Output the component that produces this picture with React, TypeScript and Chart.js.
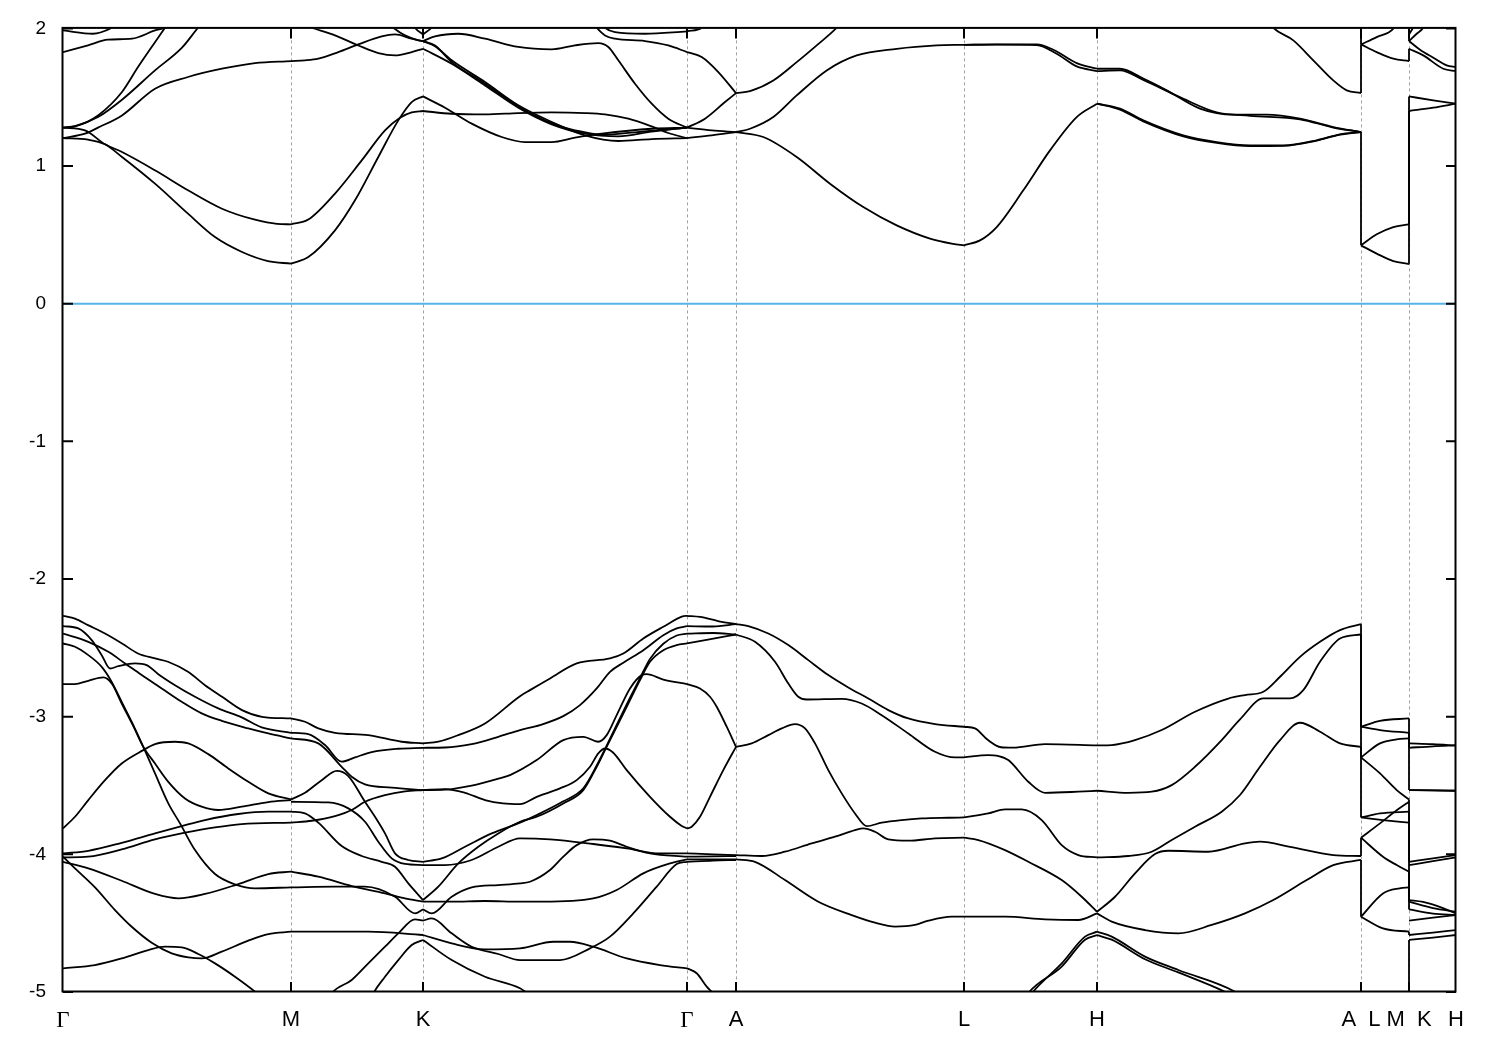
import React, { useEffect, useRef } from 'react';
import { Chart, registerables } from 'chart.js';

Chart.register(...registerables);

type Pt = [number, number];

// k-path positions (distance along path) and labels
const K_POS = [0, 228, 360, 624, 673, 901, 1034, 1298, 1346, 1393];
const K_LABELS = ['Γ', 'M', 'K', 'Γ', 'A', 'L', 'H', 'A  L', 'M  K', 'H'];
const E_TICKS = [-5, -4, -3, -2, -1, 0, 1, 2];
const FERMI: Pt[] = [[0, 0], [1393, 0]];

// ---------------- conduction bands ----------------
const C_GM: Pt[][] = [
  [[0, 1.279], [22, 1.259], [42, 1.158], [59, 1.102], [92, 0.969], [125, 0.824], [159, 0.69], [192, 0.61], [214, 0.58], [228, 0.577]],
  [[0, 1.203], [25, 1.192], [42, 1.158], [59, 1.066], [92, 0.872], [125, 0.654], [152, 0.484], [179, 0.376], [205, 0.31], [228, 0.291]],
  [[0, 1.203], [22, 1.235], [35, 1.279], [59, 1.368], [92, 1.562], [125, 1.647], [159, 1.707], [192, 1.748], [228, 1.763]],
  [[0, 1.279], [12, 1.288], [35, 1.368], [59, 1.538], [75, 1.719], [92, 1.9], [102, 2.005], [110, 2.09]],
  [[0, 1.279], [12, 1.29], [35, 1.356], [59, 1.482], [92, 1.695], [119, 1.86], [135, 2.005], [145, 2.09]],
  [[0, 1.985], [30, 1.961], [49, 2.005], [60, 2.06]],
  [[0, 1.828], [25, 1.877], [45, 1.918], [69, 1.925], [92, 1.985], [102, 2.005], [110, 2.04]],
];
const C_MK: Pt[][] = [
  [[228, 0.291], [245.3, 0.339], [272, 0.533], [292, 0.751], [315.3, 1.066], [335.3, 1.332], [348.7, 1.465], [360, 1.506]],
  [[228, 0.577], [245.3, 0.611], [272, 0.8], [298.7, 1.041], [322, 1.259], [337, 1.351], [348.7, 1.39], [360, 1.4]],
  [[228, 1.763], [242, 1.768], [255.3, 1.78], [275.3, 1.828], [295.3, 1.884], [318.7, 1.942], [332, 1.956], [348.7, 1.925], [360, 1.908]],
  [[228, 2.06], [248.7, 2.005], [272, 1.949], [295.3, 1.876], [315.3, 1.821], [332, 1.804], [348.7, 1.828], [360, 1.852]],
  [[322, 2.06], [330.3, 2.005], [342, 1.949], [355.3, 1.913], [360, 1.908]],
  [[348, 2.06], [352, 2.005], [360, 1.956]],
];
const C_KG: Pt[][] = [
  [[360, 1.506], [382, 1.424], [408.7, 1.308], [438.7, 1.211], [462, 1.174], [488.7, 1.174], [512, 1.206], [538.7, 1.235], [588.7, 1.271], [624, 1.279]],
  [[360, 1.4], [388.7, 1.38], [422, 1.375], [455.3, 1.385], [488.7, 1.39], [522, 1.385], [542, 1.375], [565.3, 1.344], [588.7, 1.288], [605.3, 1.24], [624, 1.203]],
  [[360, 1.852], [388.7, 1.743], [422, 1.586], [455.3, 1.424], [488.7, 1.303], [522, 1.235], [555.3, 1.215], [588.7, 1.25], [624, 1.279]],
  [[360, 1.908], [372, 1.87], [388.7, 1.768], [422, 1.61], [455.3, 1.441], [488.7, 1.32], [522, 1.223], [555.3, 1.182], [588.7, 1.196], [624, 1.203]],
  [[360, 1.908], [372, 1.875], [388.7, 1.755], [422, 1.598], [455.3, 1.432], [488.7, 1.31], [512, 1.26], [538.7, 1.228], [572, 1.245], [624, 1.279]],
  [[360, 1.908], [372, 1.942], [395.3, 1.961], [422, 1.925], [455.3, 1.865], [488.7, 1.848], [512, 1.877], [535.3, 1.893], [545.3, 1.865], [555.3, 1.768], [572, 1.598], [588.7, 1.453], [605.3, 1.344], [624, 1.279]],
  [[360, 1.956], [368.7, 2.005], [375, 2.06]],
  [[528, 2.06], [533.7, 2.005], [542, 1.949], [552, 1.925], [582, 1.908], [605.3, 1.876], [624, 1.828]],
  [[536, 2.06], [542, 2.005], [552, 1.973], [582, 1.961], [624, 1.978]],
];
const C_GA: Pt[][] = [
  [[624, 1.279], [642, 1.344], [662, 1.465], [673, 1.53]],
  [[624, 1.828], [638.7, 1.792], [655.3, 1.683], [673, 1.53]],
  [[624, 1.279], [648.7, 1.259], [673, 1.247]],
  [[624, 1.203], [648.7, 1.223], [673, 1.247]],
  [[624, 1.978], [638.7, 2.005], [645, 2.06]],
];
const C_AL: Pt[][] = [
  [[673, 1.53], [687, 1.545], [710.3, 1.622], [733.7, 1.755], [753.7, 1.877], [773.7, 2.005], [780, 2.06]],
  [[673, 1.247], [687, 1.271], [710.3, 1.356], [733.7, 1.513], [763.7, 1.695], [793.7, 1.804], [833.7, 1.852], [873.7, 1.877], [901, 1.881]],
  [[673, 1.247], [700.3, 1.211], [733.7, 1.066], [767, 0.872], [800.3, 0.702], [833.7, 0.569], [867, 0.473], [890, 0.435], [901, 0.424]],
];
const C_LH: Pt[][] = [
  [[901, 1.881], [933.7, 1.884], [973.7, 1.884], [990.3, 1.845], [1013.7, 1.748], [1034, 1.707]],
  [[901, 1.881], [933.7, 1.882], [973.7, 1.879], [993.7, 1.816], [1013.7, 1.724], [1034, 1.69]],
  [[901, 0.424], [917, 0.46], [933.7, 0.557], [960.3, 0.824], [987, 1.114], [1013.7, 1.356], [1034, 1.453]],
];
const C_HA: Pt[][] = [
  [[1034, 1.707], [1057, 1.707], [1080.3, 1.635], [1103.7, 1.55], [1137, 1.417], [1170.3, 1.373], [1203.7, 1.373], [1237, 1.344], [1270.3, 1.283], [1298, 1.247]],
  [[1034, 1.69], [1057, 1.695], [1080.3, 1.625], [1120, 1.49], [1153.7, 1.39], [1187, 1.365], [1237, 1.34], [1270.3, 1.28], [1298, 1.247]],
  [[1034, 1.453], [1057, 1.417], [1080.3, 1.332], [1120.3, 1.223], [1153.7, 1.174], [1187, 1.15], [1220.3, 1.15], [1253.7, 1.187], [1277, 1.23], [1298, 1.247]],
  [[1034, 1.453], [1057, 1.41], [1080.3, 1.325], [1120.3, 1.216], [1153.7, 1.168], [1187, 1.145], [1220.3, 1.147], [1253.7, 1.185], [1277, 1.228], [1298, 1.247]],
  [[1205, 2.06], [1210.3, 2.005], [1230.3, 1.913], [1250.3, 1.768], [1270.3, 1.622], [1283.7, 1.55], [1298, 1.53]],
];
const C_LM: Pt[][] = [
  [[1298, 1.884], [1313.7, 1.937], [1330.3, 1.998], [1335, 2.06]],
  [[1298, 1.884], [1313.7, 1.828], [1330.3, 1.78], [1346, 1.763]],
  [[1298, 0.424], [1313.7, 0.504], [1330.3, 0.557], [1346, 0.577]],
  [[1298, 0.424], [1313.7, 0.364], [1330.3, 0.31], [1346, 0.288]],
];
const C_KH: Pt[][] = [
  [[1346, 1.506], [1370.3, 1.477], [1393, 1.453]],
  [[1346, 1.4], [1370.3, 1.424], [1393, 1.453]],
  [[1346, 1.908], [1357, 1.845], [1370.3, 1.787], [1383.7, 1.731], [1393, 1.719]],
  [[1346, 1.852], [1360.3, 1.804], [1380.3, 1.707], [1393, 1.69]],
  [[1346, 1.908], [1353.7, 1.961], [1360.3, 2.005], [1364, 2.06]],
  [[1346, 1.956], [1350, 2.005], [1354, 2.06]],
];

// ---------------- valence bands ----------------
const V_GM: Pt[][] = [
  [[0, -2.267], [12, -2.287], [25, -2.335], [42, -2.396], [59, -2.468], [75, -2.541], [92, -2.577], [105, -2.601], [125, -2.674], [142, -2.771], [159, -2.855], [179, -2.952], [199, -3.001], [228, -3.013]],
  [[0, -2.342], [15.3, -2.359], [28.7, -2.444], [38.7, -2.553], [47, -2.65], [55.3, -2.633], [72, -2.613], [83.7, -2.625], [95.3, -2.691], [112, -2.771], [132, -2.855], [155.3, -2.94], [178.7, -3.005], [198.7, -3.078], [228, -3.117]],
  [[0, -2.396], [25.3, -2.456], [45.3, -2.529], [62, -2.613], [78.7, -2.698], [98.7, -2.795], [118.7, -2.892], [138.7, -2.976], [158.7, -3.03], [185.3, -3.085], [205.3, -3.122], [228, -3.158]],
  [[0, -2.468], [12, -2.492], [25.3, -2.553], [38.7, -2.638], [48.7, -2.747], [58.7, -2.892], [70.3, -3.061], [80.3, -3.219], [92, -3.412], [105.3, -3.63], [117, -3.775], [132, -3.969], [152, -4.143], [172, -4.218], [192, -4.247], [228, -4.24]],
  [[0, -2.763], [11.7, -2.763], [25.3, -2.739], [40.3, -2.715], [48.7, -2.759], [58.7, -2.904], [70.3, -3.068], [80.3, -3.219], [92, -3.34], [105.3, -3.473], [122, -3.594], [138.7, -3.654], [155.3, -3.678], [178.7, -3.654], [205.3, -3.62], [228, -3.606]],
  [[0, -3.812], [12, -3.727], [25.3, -3.606], [42, -3.461], [58.7, -3.34], [80.3, -3.243], [92, -3.199], [112, -3.182], [125.3, -3.194], [145.3, -3.272], [165.3, -3.376], [185.3, -3.473], [205.3, -3.557], [228, -3.601]],
  [[0, -3.993], [25.3, -3.974], [58.7, -3.916], [92, -3.848], [118.7, -3.795], [142, -3.751], [175.3, -3.707], [205.3, -3.69], [228, -3.69]],
  [[0, -4.022], [25.3, -4.017], [58.7, -3.964], [92, -3.891], [122, -3.843], [152, -3.804], [178.7, -3.78], [228, -3.77]],
  [[0, -4.054], [25.3, -4.102], [58.7, -4.192], [92, -4.288], [115.3, -4.32], [142, -4.288], [175.3, -4.216], [205.3, -4.143], [228, -4.126]],
  [[0, -4.017], [12, -4.102], [32, -4.24], [52, -4.405], [68.7, -4.526], [88.7, -4.642], [108.7, -4.719], [125.3, -4.748], [138.7, -4.756], [158.7, -4.707], [185.3, -4.627], [205.3, -4.579], [228, -4.562]],
  [[0, -4.828], [32, -4.804], [58.7, -4.756], [85.3, -4.695], [102, -4.671], [118.7, -4.676], [135.3, -4.724], [152, -4.792], [172, -4.889], [192, -4.998], [200, -5.05]],
];
const V_MK: Pt[][] = [
  [[228, -3.013], [242, -3.037], [255.3, -3.085], [272, -3.117], [305.3, -3.134], [338.7, -3.182], [360, -3.194]],
  [[228, -3.117], [245.3, -3.127], [262, -3.206], [278.7, -3.327], [292, -3.296], [308.7, -3.257], [335.3, -3.233], [360, -3.226]],
  [[228, -3.158], [255.3, -3.194], [278.7, -3.364], [288.7, -3.436], [302, -3.492], [328.7, -3.516], [360, -3.533]],
  [[228, -3.601], [242, -3.553], [258.7, -3.461], [273.7, -3.393], [285.3, -3.431], [302, -3.618], [312, -3.727], [322, -3.848], [332, -3.993], [345.3, -4.041], [360, -4.054]],
  [[228, -3.618], [265.3, -3.623], [285.3, -3.666], [302, -3.763], [315.3, -3.908], [328.7, -4.029], [342, -4.07], [360, -4.078]],
  [[228, -3.69], [242, -3.703], [255.3, -3.77], [278.7, -3.94], [298.7, -4.012], [318.7, -4.054], [332, -4.09], [345.3, -4.211], [360, -4.332]],
  [[228, -3.77], [248.7, -3.756], [272, -3.722], [288.7, -3.678], [302, -3.618], [322, -3.57], [342, -3.543], [360, -3.533]],
  [[228, -4.126], [255.3, -4.162], [288.7, -4.23], [322, -4.283], [342, -4.32], [360, -4.344]],
  [[228, -4.24], [272, -4.235], [302, -4.235], [332, -4.308], [352, -4.429], [360, -4.4]],
  [[228, -4.562], [305.3, -4.562], [360, -4.586]],
  [[262, -5.1], [268.7, -5.01], [288.7, -4.913], [305.3, -4.792], [322, -4.671], [335.3, -4.574], [352, -4.472], [360, -4.482]],
  [[305, -5.1], [310.3, -5.01], [322, -4.889], [335.3, -4.768], [348.7, -4.659], [360, -4.622]],
];
const V_KG: Pt[][] = [
  [[360, -3.194], [375.3, -3.182], [395.3, -3.134], [422, -3.049], [457, -2.851], [467, -2.807], [487, -2.722], [513.7, -2.613], [547, -2.577], [560.3, -2.541], [580.3, -2.432], [600.3, -2.347], [620.3, -2.27], [624, -2.267]],
  [[360, -3.226], [382, -3.224], [408.7, -3.199], [435.3, -3.146], [457, -3.097], [477, -3.061], [500.3, -2.996], [517, -2.916], [533.7, -2.795], [547, -2.674], [560.3, -2.608], [580.3, -2.517], [600.3, -2.408], [613.7, -2.359], [624, -2.342]],
  [[360, -3.533], [382, -3.526], [402, -3.553], [422, -3.606], [440, -3.63], [457, -3.635], [473.7, -3.582], [497, -3.521], [513.7, -3.461], [527, -3.364], [535.3, -3.267], [542, -3.231], [550, -3.26], [563.7, -3.388], [587, -3.582], [607, -3.727], [618, -3.79], [624, -3.812]],
  [[360, -3.533], [382, -3.53], [408.7, -3.5], [435.3, -3.45], [447, -3.424], [473.7, -3.315], [500.3, -3.17], [520.3, -3.146], [535.3, -3.182], [543.7, -3.134], [553.7, -2.989], [567, -2.795], [578.7, -2.698], [583.7, -2.691], [600.3, -2.73], [624, -2.763]],
  [[360, -4.332], [375.3, -4.235], [395.3, -4.066], [415.3, -3.945], [435.3, -3.848], [457, -3.763], [473.7, -3.727], [500.3, -3.63], [520.3, -3.533], [533.7, -3.364], [542, -3.243], [550.3, -3.122], [563.7, -2.928], [577, -2.734], [587, -2.601], [600.3, -2.517], [613.7, -2.48], [624, -2.468]],
  [[360, -4.054], [378.7, -4.03], [402, -3.945], [428.7, -3.848], [457, -3.77], [473.7, -3.715], [500.3, -3.615], [520.3, -3.52], [533.7, -3.355], [542, -3.235], [550.3, -3.11], [563.7, -2.91], [577, -2.72], [587, -2.58], [600.3, -2.47], [613.7, -2.41], [624, -2.396]],
  [[360, -4.078], [382, -4.078], [408.7, -4.041], [435.3, -3.945], [457, -3.884], [487, -3.891], [530.3, -3.925], [563.7, -3.957], [597, -3.993], [624, -3.993]],
  [[360, -4.4], [368.7, -4.429], [388.7, -4.308], [408.7, -4.24], [435.3, -4.223], [457, -4.211], [467, -4.199], [487, -4.114], [500.3, -4.017], [513.7, -3.933], [530.3, -3.891], [547, -3.901], [563.7, -3.945], [587, -3.993], [624, -4.017]],
  [[360, -4.344], [388.7, -4.344], [422, -4.339], [457, -4.344], [480.3, -4.344], [530.3, -4.32], [553.7, -4.259], [580.3, -4.138], [607, -4.066], [624, -4.037]],
  [[360, -4.482], [368.7, -4.465], [388.7, -4.574], [408.7, -4.671], [435.3, -4.724], [457, -4.768], [497, -4.768], [527, -4.683], [547, -4.598], [570.3, -4.429], [593.7, -4.235], [613.7, -4.071], [624, -4.054]],
  [[360, -4.586], [388.7, -4.647], [422, -4.69], [457, -4.683], [490.3, -4.635], [507, -4.635], [530.3, -4.671], [563.7, -4.756], [597, -4.804], [624, -4.828]],
  [[360, -4.622], [388.7, -4.768], [422, -4.889], [457, -4.973], [463.7, -5.005], [475, -5.06]],
];
const V_GA: Pt[][] = [
  [[624, -2.267], [637, -2.275], [655, -2.305], [673, -2.328]],
  [[624, -2.342], [650, -2.345], [673, -2.328]],
  [[624, -2.396], [650, -2.392], [673, -2.403]],
  [[624, -2.468], [645, -2.44], [673, -2.403]],
  [[624, -2.763], [637, -2.795], [647, -2.855], [653.7, -2.928], [663.7, -3.073], [673, -3.219]],
  [[624, -3.812], [628.7, -3.799], [637, -3.727], [647, -3.582], [660.3, -3.388], [673, -3.219]],
  [[624, -3.993], [650, -4.0], [673, -4.005]],
  [[624, -4.017], [650, -4.015], [673, -4.012]],
  [[624, -4.037], [650, -4.037], [673, -4.037]],
  [[624, -4.054], [650, -4.045], [673, -4.041]],
  [[624, -4.828], [633.7, -4.864], [643.7, -4.961], [650.3, -5.01], [656, -5.06]],
];
const V_AL: Pt[][] = [
  [[673, -2.328], [685.3, -2.342], [705.3, -2.396], [725.3, -2.48], [745.3, -2.589], [765.3, -2.698], [785.3, -2.788], [805.3, -2.868], [825.3, -2.952], [845.3, -3.013], [872, -3.054], [901, -3.073]],
  [[673, -2.403], [692, -2.456], [712, -2.601], [725.3, -2.759], [735.3, -2.855], [743.7, -2.875], [778.7, -2.87], [798.7, -2.904], [818.7, -2.989], [845.3, -3.122], [872, -3.255], [892, -3.296], [901, -3.296]],
  [[673, -3.219], [688.7, -3.194], [705.3, -3.134], [718.7, -3.085], [732, -3.054], [742, -3.085], [752, -3.194], [765.3, -3.388], [778.7, -3.557], [792, -3.703], [803.7, -3.795], [818.7, -3.77], [838.7, -3.751], [858.7, -3.739], [885.3, -3.734], [901, -3.732]],
  [[673, -4.005], [698.7, -4.012], [722, -3.981], [748.7, -3.92], [772, -3.872], [792, -3.824], [800.3, -3.811], [812, -3.836], [825.3, -3.891], [845.3, -3.901], [872, -3.884], [901, -3.879]],
  [[673, -4.037], [692, -4.054], [722, -4.187], [755.3, -4.344], [788.7, -4.441], [812, -4.496], [832, -4.525], [852, -4.513], [865.3, -4.482], [888.7, -4.453], [901, -4.453]],
];
const V_LH: Pt[][] = [
  [[901, -3.073], [912, -3.085], [925, -3.17], [938, -3.222], [950, -3.225], [982, -3.199], [1034, -3.209]],
  [[901, -3.296], [925.3, -3.279], [935, -3.285], [945.3, -3.315], [965.3, -3.473], [982, -3.553], [1015.3, -3.545], [1034, -3.538]],
  [[901, -3.732], [925.3, -3.703], [942, -3.674], [958.7, -3.674], [978.7, -3.751], [998.7, -3.933], [1015.3, -4.005], [1034, -4.022]],
  [[901, -3.879], [915.3, -3.896], [942, -3.969], [965.3, -4.054], [998.7, -4.187], [1018.7, -4.308], [1034, -4.417]],
  [[901, -4.453], [942, -4.453], [982, -4.472], [1015.3, -4.477], [1034, -4.429]],
  [[964, -5.06], [968.7, -5.01], [998.7, -4.792], [1022, -4.598], [1034, -4.562]],
  [[961, -5.06], [965, -5.01], [998.7, -4.815], [1022, -4.62], [1034, -4.587]],
];
const V_HA: Pt[][] = [
  [[1034, -3.209], [1048.7, -3.206], [1072, -3.17], [1098.7, -3.097], [1132, -2.964], [1165.3, -2.868], [1182, -2.843], [1200.3, -2.819], [1217, -2.71], [1237, -2.565], [1257, -2.456], [1277, -2.371], [1298, -2.328]],
  [[1034, -3.538], [1065.3, -3.553], [1088.7, -3.545], [1108.7, -3.497], [1132, -3.364], [1158.7, -3.17], [1177, -3.02], [1200.3, -2.867], [1227, -2.867], [1240.3, -2.807], [1257, -2.601], [1277, -2.432], [1298, -2.403]],
  [[1034, -4.022], [1065.3, -4.012], [1088.7, -3.981], [1108.7, -3.896], [1132, -3.799], [1158.7, -3.69], [1177, -3.569], [1197, -3.364], [1217, -3.17], [1237, -3.044], [1257, -3.109], [1277, -3.194], [1298, -3.219]],
  [[1034, -4.417], [1052, -4.308], [1072, -4.138], [1092, -3.998], [1105.3, -3.974], [1145.3, -3.981], [1182, -3.92], [1197, -3.908], [1227, -3.945], [1270.3, -4.005], [1298, -4.012]],
  [[1034, -4.429], [1048.7, -4.489], [1082, -4.55], [1115.3, -4.574], [1148.7, -4.513], [1182, -4.429], [1210.3, -4.332], [1243.7, -4.187], [1270.3, -4.078], [1298, -4.041]],
  [[1034, -4.562], [1048.7, -4.598], [1082, -4.743], [1115.3, -4.84], [1172, -4.998], [1180, -5.04]],
  [[1034, -4.587], [1048.7, -4.62], [1082, -4.762], [1115.3, -4.858], [1165, -5.01], [1172, -5.04]],
];
const V_LM: Pt[][] = [
  [[1298, -3.073], [1317, -3.03], [1346, -3.013]],
  [[1298, -3.073], [1317, -3.097], [1346, -3.117]],
  [[1298, -3.296], [1317, -3.194], [1333.7, -3.165], [1346, -3.158]],
  [[1298, -3.296], [1317, -3.412], [1333.7, -3.533], [1346, -3.601]],
  [[1298, -3.732], [1317, -3.703], [1346, -3.69]],
  [[1298, -3.732], [1320, -3.751], [1346, -3.77]],
  [[1298, -3.879], [1317, -3.775], [1333.7, -3.68], [1346, -3.618]],
  [[1298, -3.879], [1320, -4.017], [1333.7, -4.078], [1346, -4.126]],
  [[1298, -4.453], [1320, -4.284], [1336.7, -4.247], [1346, -4.24]],
  [[1298, -4.453], [1320, -4.538], [1346, -4.562]],
];
const V_KH: Pt[][] = [
  [[1346, -3.194], [1370, -3.2], [1393, -3.209]],
  [[1346, -3.226], [1370, -3.215], [1393, -3.209]],
  [[1346, -3.533], [1393, -3.538]],
  [[1346, -3.533], [1370, -3.535], [1393, -3.538]],
  [[1346, -4.054], [1370, -4.03], [1393, -4.005]],
  [[1346, -4.078], [1370, -4.05], [1393, -4.022]],
  [[1346, -4.332], [1360, -4.345], [1380, -4.39], [1393, -4.429]],
  [[1346, -4.344], [1370, -4.39], [1393, -4.417]],
  [[1346, -4.4], [1370, -4.43], [1393, -4.441]],
  [[1346, -4.482], [1370, -4.46], [1393, -4.441]],
  [[1346, -4.586], [1370, -4.568], [1393, -4.55]],
  [[1346, -4.622], [1370, -4.605], [1393, -4.586]],
];

// band energies on either side of the path discontinuities (A|L and M|K)
const JUMP_AL_K = 1298;
const JUMP_AL: Pt[] = [[1.247, 0.424], [1.53, 1.884], [2.08, 1.884], [-2.328, -3.073], [-2.403, -3.296], [-3.219, -3.732], [-4.012, -3.879], [-4.041, -4.453]];
const JUMP_MK_K = 1346;
const JUMP_MK: Pt[] = [[0.291, 1.4], [0.577, 1.506], [1.763, 1.852], [2.06, 1.908], [-3.013, -3.194], [-3.117, -3.226], [-3.158, -3.533], [-3.601, -4.054], [-3.69, -4.332], [-4.126, -4.344], [-4.24, -4.4], [-4.562, -4.586], [-5.1, -4.622]];

const BAND_GROUPS: Pt[][][] = [C_GM, C_MK, C_KG, C_GA, C_AL, C_LH, C_HA, C_LM, C_KH, V_GM, V_MK, V_KG, V_GA, V_AL, V_LH, V_HA, V_LM, V_KH];

const W = 1500;
const H = 1050;
const SANS = "'Liberation Sans', Arial, Helvetica, sans-serif";
const SERIF = "'Liberation Serif', 'Times New Roman', serif";
const LINE_W = 1.8;

const framePlugin = {
  id: 'bandFrame',
  beforeDatasetsDraw(chart: any) {
    const { ctx, chartArea: a, scales } = chart;
    ctx.save();
    ctx.strokeStyle = '#a0a0a0';
    ctx.lineWidth = 1;
    ctx.setLineDash([3, 3]);
    for (const k of K_POS.slice(1, -1)) {
      const x = Math.round(scales.x.getPixelForValue(k)) + 0.5;
      ctx.beginPath();
      ctx.moveTo(x, a.top);
      ctx.lineTo(x, a.bottom);
      ctx.stroke();
    }
    ctx.restore();
  },
  afterDatasetsDraw(chart: any) {
    const { ctx, chartArea: a, scales } = chart;
    ctx.save();
    ctx.strokeStyle = '#000';
    ctx.lineWidth = 2;
    ctx.setLineDash([]);
    ctx.strokeRect(a.left - 0.5, a.top - 0.5, a.right - a.left, a.bottom - a.top);
    const tl = 10;
    ctx.beginPath();
    for (const e of E_TICKS) {
      const y = scales.y.getPixelForValue(e);
      ctx.moveTo(a.left, y);
      ctx.lineTo(a.left + tl, y);
      ctx.moveTo(a.right, y);
      ctx.lineTo(a.right - tl, y);
    }
    for (const k of K_POS.slice(1, -1)) {
      const x = scales.x.getPixelForValue(k);
      ctx.moveTo(x, a.top);
      ctx.lineTo(x, a.top + tl);
      ctx.moveTo(x, a.bottom);
      ctx.lineTo(x, a.bottom - tl);
    }
    ctx.stroke();
    ctx.restore();
  },
};

export default function App() {
  const ref = useRef<HTMLCanvasElement>(null);
  useEffect(() => {
    const canvas = ref.current;
    if (!canvas) return;
    const datasets: any[] = [];
    datasets.push({
      data: FERMI.map(([x, y]) => ({ x, y })),
      borderColor: '#56b4e9',
      borderWidth: 2,
      pointRadius: 0,
      tension: 0,
    });
    for (const group of BAND_GROUPS) {
      for (const band of group) {
        datasets.push({
          data: band.map(([x, y]) => ({ x, y })),
          borderColor: '#000',
          borderWidth: LINE_W,
          pointRadius: 0,
          cubicInterpolationMode: 'monotone',
          borderJoinStyle: 'round',
        });
      }
    }
    const jumps: [number, Pt[]][] = [[JUMP_AL_K, JUMP_AL], [JUMP_MK_K, JUMP_MK]];
    for (const [k, pairs] of jumps) {
      for (const [e1, e2] of pairs) {
        datasets.push({
          data: [{ x: k, y: e1 }, { x: k, y: e2 }],
          borderColor: '#000',
          borderWidth: LINE_W,
          pointRadius: 0,
          tension: 0,
        });
      }
    }
    const chart = new Chart(canvas, {
      type: 'line',
      data: { datasets },
      options: {
        animation: false,
        responsive: false,
        devicePixelRatio: 1,
        events: [],
        layout: { padding: { top: 28, right: 44, left: 0, bottom: 0 } },
        plugins: { legend: { display: false }, tooltip: { enabled: false } },
        scales: {
          x: {
            type: 'linear',
            min: 0,
            max: 1393,
            grid: { display: false, drawTicks: false },
            border: { display: false },
            afterBuildTicks: (s: any) => {
              s.ticks = K_POS.map((v) => ({ value: v }));
            },
            afterFit: (s: any) => {
              s.height = 58;
            },
            ticks: {
              autoSkip: false,
              maxRotation: 0,
              minRotation: 0,
              padding: 15,
              color: '#000',
              callback: (v: any) => K_LABELS[K_POS.indexOf(Number(v))] ?? '',
              font: (ctx: any) => {
                const lab = ctx.tick ? K_LABELS[K_POS.indexOf(ctx.tick.value)] : '';
                return lab === 'Γ' ? { family: SERIF, size: 23 } : { family: SANS, size: 22 };
              },
            },
          },
          y: {
            type: 'linear',
            min: -5,
            max: 2,
            grid: { display: false, drawTicks: false },
            border: { display: false },
            afterBuildTicks: (s: any) => {
              s.ticks = E_TICKS.map((v) => ({ value: v }));
            },
            afterFit: (s: any) => {
              s.width = 63;
            },
            ticks: {
              padding: 17,
              color: '#000',
              font: { family: SANS, size: 19 },
              callback: (v: any) => String(v),
            },
          },
        },
      },
      plugins: [framePlugin],
    } as any);
    return () => chart.destroy();
  }, []);
  return (
    <div style={{ position: 'absolute', left: 0, top: 0, width: W, height: H, background: '#fff' }}>
      <canvas ref={ref} width={W} height={H} style={{ display: 'block' }} />
    </div>
  );
}
